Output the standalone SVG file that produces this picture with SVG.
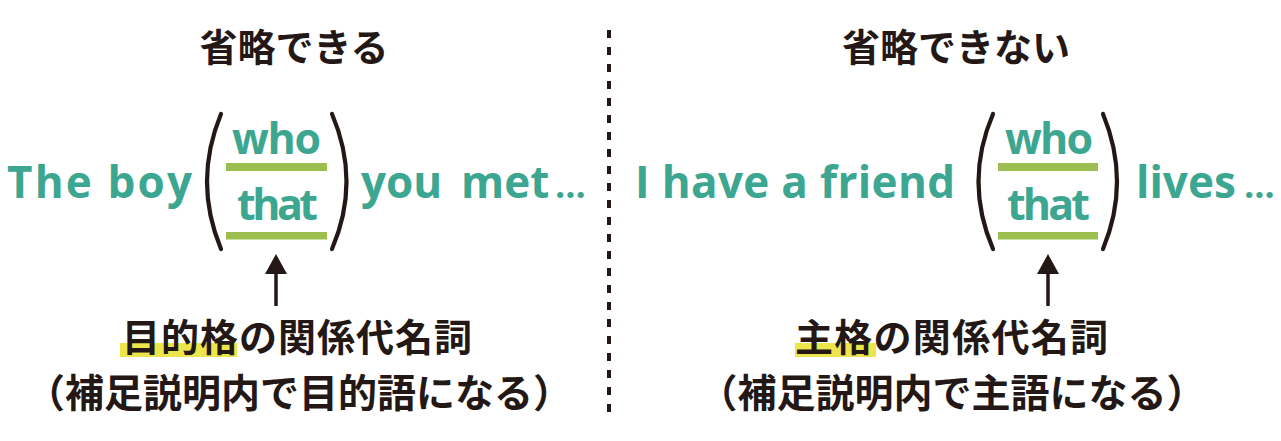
<svg xmlns="http://www.w3.org/2000/svg" width="1281" height="441" viewBox="0 0 1281 441">
  <style>
    .en { font-family: "Open Sans", "Liberation Sans", sans-serif; font-weight: 700; font-size: 44px; fill: #3ca691; }
    .en2 { font-family: "Open Sans", "Liberation Sans", sans-serif; font-weight: 700; font-size: 43px; fill: #3ca691; }
    .dots { font-size: 36px; }
    .jp { font-family: "Noto Sans CJK JP", sans-serif; font-weight: 700; font-size: 38px; fill: #231815; }
    .jp2 { font-family: "Noto Sans CJK JP", sans-serif; font-weight: 700; font-size: 39px; fill: #231815; }
    .paren { fill: none; stroke: #231815; stroke-width: 4.2; stroke-linecap: round; }
    .bar { fill: #9bbe4e; }
    .hl { fill: #ece54b; }
    .arrow { stroke: #231815; stroke-width: 3.5; fill: none; }
    .divider { stroke: #231815; stroke-width: 4; stroke-dasharray: 8 9; }
  </style>
  <defs>
    <marker id="ah" markerUnits="userSpaceOnUse" markerWidth="20" markerHeight="22" refX="2" refY="11" orient="auto">
      <path d="M0,0 L20,11 L0,22 z" fill="#231815"/>
    </marker>
  </defs>
  <rect width="1281" height="441" fill="#ffffff"/>

  <g id="divider">
    <line class="divider" x1="609" y1="30" x2="609" y2="412"/>
  </g>

  <g id="left-title">
    <text class="jp" x="294" y="61" text-anchor="middle">省略できる</text>
  </g>
  <g id="right-title">
    <text class="jp" x="956" y="61" text-anchor="middle">省略できない</text>
  </g>

  <g id="left-sentence">
    <text class="en" x="7" y="198" textLength="185" lengthAdjust="spacing">The boy</text>
    <path class="paren" d="M221,114 Q193,181.5 221,249"/>
    <text class="en2" x="276.5" y="154" text-anchor="middle" textLength="89" lengthAdjust="spacing">who</text>
    <rect class="bar" x="226" y="163" width="101" height="8"/>
    <text class="en2" x="277.5" y="220" text-anchor="middle" textLength="81" lengthAdjust="spacing">that</text>
    <rect class="bar" x="226" y="232" width="101" height="7.5"/>
    <path class="paren" d="M332,114 Q361,181.5 332,249"/>
    <text class="en" y="198"><tspan x="361">you</tspan> <tspan x="461">met</tspan> <tspan class="dots" x="555">…</tspan></text>
  </g>

  <g id="right-sentence">
    <text class="en" x="635" y="198" textLength="320" lengthAdjust="spacing">I have a friend</text>
    <path class="paren" d="M993,114 Q964,181.5 993,249"/>
    <text class="en2" x="1049" y="154" text-anchor="middle" textLength="88" lengthAdjust="spacing">who</text>
    <rect class="bar" x="998" y="163" width="100" height="8"/>
    <text class="en2" x="1048.5" y="220" text-anchor="middle" textLength="83" lengthAdjust="spacing">that</text>
    <rect class="bar" x="998" y="232" width="100" height="7.5"/>
    <path class="paren" d="M1103,114 Q1131,181.5 1103,249"/>
    <text class="en" y="198"><tspan x="1136">lives</tspan> <tspan class="dots" x="1244">…</tspan></text>
  </g>

  <g id="connectors">
    <line class="arrow" x1="276" y1="306" x2="276" y2="272" marker-end="url(#ah)"/>
    <line class="arrow" x1="1048" y1="306" x2="1048" y2="272" marker-end="url(#ah)"/>
  </g>

  <g id="left-label">
    <rect class="hl" x="120" y="343" width="117" height="14"/>
    <text class="jp" x="122" y="351" textLength="350" lengthAdjust="spacing">目的格の関係代名詞</text>
    <text class="jp2" x="299" y="407" text-anchor="middle">（補足説明内で目的語になる）</text>
  </g>

  <g id="right-label">
    <rect class="hl" x="795" y="343" width="81" height="14"/>
    <text class="jp" x="795" y="351" textLength="313" lengthAdjust="spacing">主格の関係代名詞</text>
    <text class="jp2" x="952" y="407" text-anchor="middle">（補足説明内で主語になる）</text>
  </g>
</svg>
